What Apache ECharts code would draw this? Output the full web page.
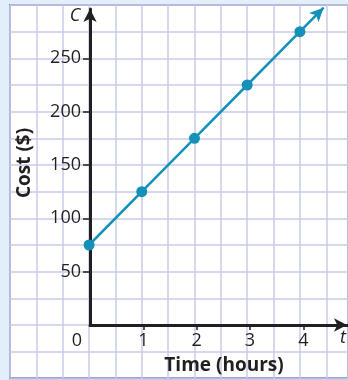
<!DOCTYPE html>
<html><head><meta charset="utf-8">
<script src="https://cdn.jsdelivr.net/npm/echarts@6/dist/echarts.min.js"></script>
<style>html,body{margin:0;padding:0;background:#e2eefa}#c{width:348px;height:380px}</style>
</head><body><div id="c"></div>
<script>
// ---- data ----
const hours = [0, 1, 2, 3, 4];
const cost = [75, 125, 175, 225, 275];
const arrowEnd = [4.45, 297.5];
const xTickLabels = [0, 1, 2, 3, 4];
const yTickLabels = [50, 100, 150, 200, 250];
const xTitle = 'Time (hours)';
const yTitle = 'Cost ($)';
const xVar = 't';
const yVar = 'C';

// ---- layout ----
const W = 348, H = 380;
const ox = 90, oy = 325;           // origin in px
const ux = 160 / 3;                // px per hour
const uy = 160 / 3 / 50;           // px per dollar
const panelL = 10, panelT = 5, panelR = -4, panelB = 1.67;
const axR = 1, axT = 9;
const font = '"Open Sans", "Noto Sans", sans-serif';
const ink = '#231f20';
const teal = '#1590b8';

const pts = hours.map((h, i) => [h, cost[i]]);

const chart = echarts.init(document.getElementById('c'), null, {renderer: 'canvas'});
chart.setOption({
  backgroundColor: '#e2eefa',
  animation: false,
  grid: [
    {left: panelL, top: panelT, right: panelR, bottom: panelB, show: true,
     backgroundColor: '#ffffff', borderColor: '#8087c3', borderWidth: 2},
    {left: ox, top: axT, right: axR, bottom: H - oy}
  ],
  xAxis: [
    {type: 'value', gridIndex: 0, min: -(ox - panelL) / ux, max: (W - panelR - ox) / ux, interval: 0.5,
     axisLine: {show: false}, axisTick: {show: false}, axisLabel: {show: false},
     splitLine: {show: true, lineStyle: {color: '#c9cbe7', width: 1.5}}},
    {type: 'value', gridIndex: 1, min: 0, max: (W - axR - ox) / ux,
     axisLine: {show: true, onZero: false, symbol: ['none', 'arrow'], symbolSize: [10, 13],
                lineStyle: {color: ink, width: 3}},
     axisTick: {show: true, length: 5, customValues: xTickLabels.filter(v => v !== 0),
                lineStyle: {color: ink, width: 1.5}},
     axisLabel: {show: true, customValues: xTickLabels, margin: 7, fontSize: 18, fontFamily: font, color: ink,
                 formatter: v => v === 0 ? '{o|0}' : String(v),
                 rich: {o: {fontSize: 18, fontFamily: font, color: ink, padding: [0, 26, 0, 0]}}},
     splitLine: {show: false}}
  ],
  yAxis: [
    {type: 'value', gridIndex: 0, min: -(H - panelB - oy) / uy, max: (oy - panelT) / uy, interval: 25,
     axisLine: {show: false}, axisTick: {show: false}, axisLabel: {show: false},
     splitLine: {show: true, lineStyle: {color: '#c9cbe7', width: 1.5}}},
    {type: 'value', gridIndex: 1, min: 0, max: (oy - axT) / uy,
     axisLine: {show: true, onZero: false, symbol: ['none', 'arrow'], symbolSize: [10, 13],
                lineStyle: {color: ink, width: 3}},
     axisTick: {show: true, length: 7, customValues: yTickLabels, lineStyle: {color: ink, width: 1.5}},
     axisLabel: {show: true, customValues: yTickLabels, margin: 9, fontSize: 18, fontFamily: font, color: ink},
     splitLine: {show: false}}
  ],
  series: [{
    type: 'line', xAxisIndex: 0, yAxisIndex: 0, data: pts, clip: false,
    symbol: 'circle', symbolSize: 11, showSymbol: true,
    lineStyle: {color: teal, width: 2.5}, itemStyle: {color: teal},
    z: 5,
    markLine: {
      silent: true, symbol: ['none', 'arrow'], symbolSize: [10, 14], label: {show: false},
      lineStyle: {color: teal, width: 2.5, type: 'solid'},
      data: [[{coord: pts[pts.length - 1]}, {coord: arrowEnd}]]
    }
  }],
  graphic: [
    {type: 'text', z: 100, x: 25, y: 163, rotation: Math.PI / 2,
     style: {text: yTitle, font: 'bold 19px ' + font, fill: ink, textAlign: 'center', textVerticalAlign: 'middle'}},
    {type: 'text', z: 100, x: 224, y: 366,
     style: {text: xTitle, font: 'bold 19px ' + font, fill: ink, textAlign: 'center', textVerticalAlign: 'middle'}},
    {type: 'text', z: 100, x: 75, y: 15.5,
     style: {text: yVar, font: 'italic 18px ' + font, fill: ink, textAlign: 'center', textVerticalAlign: 'middle'}},
    {type: 'text', z: 100, x: 343, y: 338,
     style: {text: xVar, font: 'italic 18px ' + font, fill: ink, textAlign: 'center', textVerticalAlign: 'middle'}}
  ]
});
</script></body></html>
